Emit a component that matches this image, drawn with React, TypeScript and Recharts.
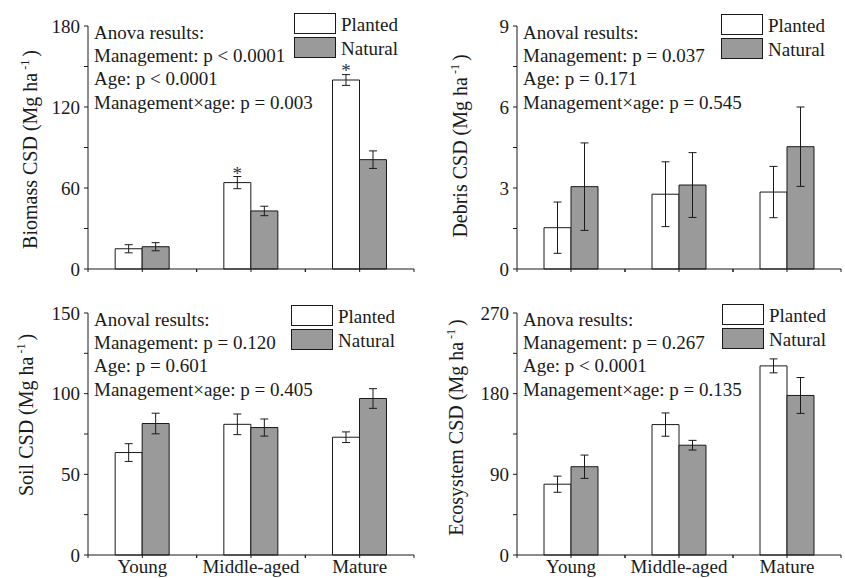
import { BarChart, Bar, XAxis, YAxis, ErrorBar, LabelList, Legend } from "recharts";

const categories = ["Young", "Middle-aged", "Mature"];
const seriesNames = ["Planted", "Natural"];
const seriesFills = ["#ffffff", "#9a9a9a"];

// Biomass
const biomassPlanted = [15, 64, 140];
const biomassPlantedErr = [3, 4.5, 4];
const biomassNatural = [16.5, 43, 81];
const biomassNaturalErr = [3, 3.5, 6.5];
const biomassSig = ["", "*", "*"];
const biomassTicks = [0, 30, 60, 90, 120, 150, 180];
const biomassMajor = [0, 60, 120, 180];
const biomassAnova = ["Anova results:", "Management: p < 0.0001", "Age: p < 0.0001", "Management×age: p = 0.003"];

// Debris
const debrisPlanted = [1.53, 2.77, 2.85];
const debrisPlantedErr = [0.95, 1.2, 0.95];
const debrisNatural = [3.05, 3.11, 4.53];
const debrisNaturalErr = [1.62, 1.2, 1.47];
const debrisTicks = [0, 1.5, 3, 4.5, 6, 7.5, 9];
const debrisMajor = [0, 3, 6, 9];
const debrisAnova = ["Anoval results:", "Management: p = 0.037", "Age: p = 0.171", "Management×age: p = 0.545"];

// Soil
const soilPlanted = [63.5, 81, 73];
const soilPlantedErr = [5.5, 6.4, 3.3];
const soilNatural = [81.5, 79, 97];
const soilNaturalErr = [6.4, 5.3, 6.1];
const soilTicks = [0, 25, 50, 75, 100, 125, 150];
const soilMajor = [0, 50, 100, 150];
const soilAnova = ["Anoval results:", "Management: p = 0.120", "Age: p = 0.601", "Management×age: p = 0.405"];

// Ecosystem
const ecoPlanted = [79, 145.5, 211];
const ecoPlantedErr = [9, 13, 7.8];
const ecoNatural = [98.5, 122.5, 178];
const ecoNaturalErr = [13, 5.4, 20];
const ecoTicks = [0, 45, 90, 135, 180, 225, 270];
const ecoMajor = [0, 90, 180, 270];
const ecoAnova = ["Anova results:", "Management: p = 0.267", "Age: p < 0.0001", "Management×age: p = 0.135"];

const FONT = '"Liberation Serif", "Times New Roman", serif';
const INK = "#1a1a1a";

const buildRows = (p: number[], pe: number[], n: number[], ne: number[], sig?: string[]) =>
  categories.map((name, i) => ({
    name,
    planted: p[i],
    plantedErr: pe[i],
    natural: n[i],
    naturalErr: ne[i],
    sig: sig ? sig[i] : "",
  }));

const panels = [
  {
    title: "Biomass CSD (Mg ha",
    rows: buildRows(biomassPlanted, biomassPlantedErr, biomassNatural, biomassNaturalErr, biomassSig),
    ticks: biomassTicks,
    major: biomassMajor,
    anova: biomassAnova,
    layout: { left: 0, top: 0, w: 420, h: 290, yAxisW: 88, right: 6, mTop: 26, xAxisH: 21, titleDx: -51, titleDy: 2, legendLeft: 294, legendTop: 13, labels: false },
  },
  {
    title: "Debris CSD (Mg ha",
    rows: buildRows(debrisPlanted, debrisPlantedErr, debrisNatural, debrisNaturalErr),
    ticks: debrisTicks,
    major: debrisMajor,
    anova: debrisAnova,
    layout: { left: 420, top: 0, w: 425, h: 290, yAxisW: 97, right: 4, mTop: 26, xAxisH: 21, titleDx: -50, titleDy: -1.5, legendLeft: 301, legendTop: 14, labels: false },
  },
  {
    title: "Soil CSD (Mg ha",
    rows: buildRows(soilPlanted, soilPlantedErr, soilNatural, soilNaturalErr),
    ticks: soilTicks,
    major: soilMajor,
    anova: soilAnova,
    layout: { left: 0, top: 290, w: 420, h: 288, yAxisW: 88, right: 6, mTop: 23, xAxisH: 23, titleDx: -55, titleDy: -19, legendLeft: 291, legendTop: 15, labels: true },
  },
  {
    title: "Ecosystem CSD (Mg ha",
    rows: buildRows(ecoPlanted, ecoPlantedErr, ecoNatural, ecoNaturalErr),
    ticks: ecoTicks,
    major: ecoMajor,
    anova: ecoAnova,
    layout: { left: 420, top: 290, w: 425, h: 288, yAxisW: 97, right: 4, mTop: 23, xAxisH: 23, titleDx: -54, titleDy: -6.5, legendLeft: 302, legendTop: 14, labels: true },
  },
];

// category tick: tick marks at the band centre and both band edges, label optional
const CatTick = (props: any) => {
  const { x, y, payload, half, show } = props;
  return (
    <g>
      {[x - half, x, x + half].map((tx: number, i: number) => (
        <line key={i} x1={tx} x2={tx} y1={y} y2={y + 3} stroke={INK} strokeWidth={1} />
      ))}
      {show && (
        <text x={x} y={y + 18} textAnchor="middle" fontSize={19} fontFamily={FONT} fill={INK}>
          {payload.value}
        </text>
      )}
    </g>
  );
};

const YTitle = (props: any) => {
  const { viewBox, text, dx, dy } = props;
  const bx = viewBox.x + viewBox.width + dx;
  const cy = viewBox.y + viewBox.height / 2 + dy;
  return (
    <text
      x={bx}
      y={cy}
      transform={`rotate(-90, ${bx}, ${cy})`}
      textAnchor="middle"
      fontSize={20}
      fontFamily={FONT}
      fill={INK}
    >
      {text}
      <tspan dx={3} dy={-8} fontSize={12}>-1</tspan>
      <tspan dx={3} dy={8}>)</tspan>
    </text>
  );
};

const LegendBox = (props: any) => {
  const items = [...(props.payload || [])].sort(
    (a: any, b: any) => seriesNames.indexOf(a.value) - seriesNames.indexOf(b.value)
  );
  return (
    <svg width={130} height={50} style={{ display: "block" }}>
      {items.map((it: any, i: number) => (
        <g key={it.value}>
          <rect x={0.5} y={0.5 + i * 24} width={41} height={20} fill={it.color} stroke={INK} strokeWidth={1} />
          <text x={47} y={17.5 + i * 24} fontSize={19} fontFamily={FONT} fill={INK}>
            {it.value}
          </text>
        </g>
      ))}
    </svg>
  );
};

const Panel = ({ cfg }: { cfg: (typeof panels)[number] }) => {
  const L = cfg.layout;
  const half = (L.w - L.yAxisW - L.right) / 6;
  const plotLeft = L.yAxisW;
  const dom = [cfg.ticks[0], cfg.ticks[cfg.ticks.length - 1]];
  return (
    <div style={{ position: "absolute", left: L.left, top: L.top, width: L.w, height: L.h }}>
      <BarChart
        width={L.w}
        height={L.h}
        data={cfg.rows}
        margin={{ top: L.mTop, right: L.right, left: 0, bottom: 0 }}
        barCategoryGap="25%"
        barGap={0}
        style={{ overflow: "visible" }}
      >
        <XAxis
          dataKey="name"
          height={L.xAxisH}
          interval={0}
          tickLine={false}
          tickSize={0}
          tickMargin={0}
          axisLine={{ stroke: INK, strokeWidth: 1 }}
          tick={(p: any) => <CatTick {...p} half={half} show={L.labels} />}
        />
        <YAxis
          type="number"
          width={L.yAxisW}
          domain={dom}
          ticks={cfg.ticks}
          interval={0}
          tickSize={4}
          tickMargin={4}
          axisLine={{ stroke: INK, strokeWidth: 1 }}
          tickLine={{ stroke: INK, strokeWidth: 1 }}
          tick={{ fontSize: 19, fontFamily: FONT, fill: INK }}
          tickFormatter={(v: number) => (cfg.major.includes(v) ? String(v) : "")}
          label={{
            content: (p: any) => <YTitle {...p} text={cfg.title} dx={L.titleDx} dy={L.titleDy} />,
          }}
        />
        <Legend
          layout="vertical"
          align="center"
          verticalAlign="middle"
          content={<LegendBox />}
          wrapperStyle={{ left: L.legendLeft, top: L.legendTop, width: 130, height: 50 }}
        />
        <Bar dataKey="planted" name={seriesNames[0]} fill={seriesFills[0]} stroke={INK} strokeWidth={1} isAnimationActive={false}>
          <ErrorBar dataKey="plantedErr" width={4} stroke={INK} strokeWidth={1} />
          <LabelList dataKey="sig" position="top" offset={3} fill="#333" fontSize={19} fontFamily={FONT} />
        </Bar>
        <Bar dataKey="natural" name={seriesNames[1]} fill={seriesFills[1]} stroke={INK} strokeWidth={1} isAnimationActive={false}>
          <ErrorBar dataKey="naturalErr" width={4} stroke={INK} strokeWidth={1} />
        </Bar>
      </BarChart>
      <svg
        width={L.w}
        height={L.h}
        style={{ position: "absolute", left: 0, top: 0, pointerEvents: "none" }}
      >
        {cfg.anova.map((line, i) => (
          <text key={i} x={plotLeft + 6} y={L.mTop + 12.5 + i * 23.4} fontSize={19} fontFamily={FONT} fill={INK}>
            {line}
          </text>
        ))}
      </svg>
    </div>
  );
};

export default function App() {
  return (
    <div
      style={{
        position: "absolute",
        left: 0,
        top: 0,
        width: 845,
        height: 578,
        background: "#fff",
        overflow: "hidden",
        fontFamily: FONT,
      }}
    >
      {panels.map((cfg, i) => (
        <Panel key={i} cfg={cfg} />
      ))}
    </div>
  );
}
